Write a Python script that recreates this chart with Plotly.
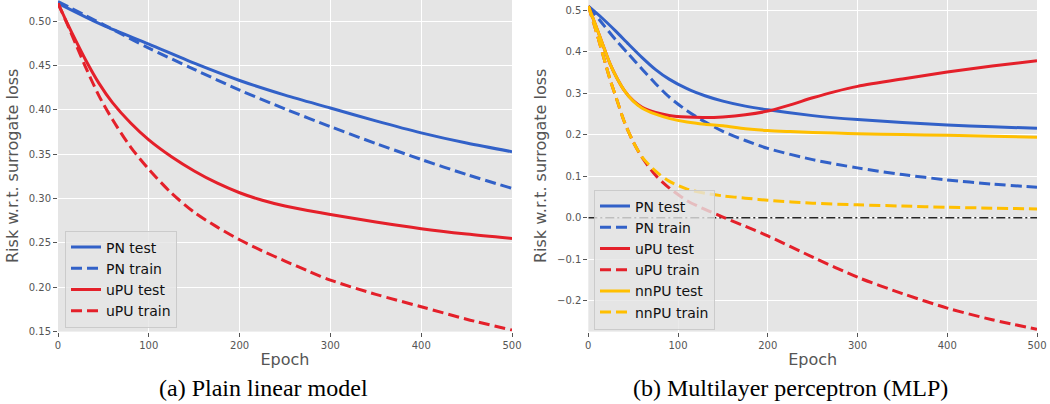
import plotly.graph_objects as go

# ---------------- data: (a) plain linear model ----------------
lin_pn_epochs = [0, 50, 100, 150, 200, 250, 300, 350, 400, 450, 500]
lin_pn_test = [0.520, 0.495, 0.474, 0.4525, 0.433, 0.4165, 0.402, 0.3875, 0.374, 0.3625, 0.3527]
lin_pn_train = [0.522, 0.496, 0.4695, 0.4455, 0.4222, 0.401, 0.381, 0.362, 0.344, 0.327, 0.3114]

lin_upu_epochs = [0, 10, 20, 30, 45, 60, 80, 100, 125, 150, 175, 200, 225, 250, 275, 300, 350, 400, 450, 500]
lin_upu_test = [0.520, 0.498, 0.477, 0.457, 0.430, 0.408, 0.385, 0.366, 0.347, 0.331, 0.3175, 0.3065,
                0.298, 0.2915, 0.2865, 0.282, 0.2735, 0.266, 0.260, 0.255]
lin_upu_train = [0.520, 0.497, 0.473, 0.449, 0.416, 0.389, 0.358, 0.333, 0.306, 0.2845, 0.268, 0.2535,
                 0.241, 0.2295, 0.2185, 0.208, 0.192, 0.178, 0.164, 0.1517]

# ---------------- data: (b) multilayer perceptron ----------------
mlp_pn_epochs = [0, 15, 30, 45, 60, 75, 90, 110, 130, 150, 175, 200, 250, 300, 350, 400, 450, 500]
mlp_pn_test = [0.510, 0.482, 0.451, 0.418, 0.386, 0.357, 0.334, 0.311, 0.294, 0.281, 0.269, 0.260,
               0.246, 0.2365, 0.2295, 0.2235, 0.219, 0.2156]
mlp_pn_train = [0.510, 0.470, 0.430, 0.394, 0.358, 0.323, 0.291, 0.258, 0.231, 0.208, 0.186, 0.167,
                0.140, 0.120, 0.104, 0.091, 0.081, 0.0734]

mlp_test_epochs = [0, 8, 16, 24, 32, 40, 50, 60, 75, 90, 110, 130, 150, 175, 200, 225, 250, 275,
                   300, 350, 400, 450, 500]
mlp_upu_test = [0.510, 0.465, 0.418, 0.372, 0.336, 0.307, 0.282, 0.266, 0.2535, 0.2465, 0.2425,
                0.2415, 0.243, 0.248, 0.257, 0.272, 0.289, 0.304, 0.3165, 0.3345, 0.351, 0.3655, 0.3785]
mlp_nnpu_test = [0.510, 0.465, 0.418, 0.372, 0.336, 0.307, 0.281, 0.264, 0.2495, 0.2395, 0.2305,
                 0.2250, 0.2215, 0.2145, 0.210, 0.2075, 0.2055, 0.204, 0.2025, 0.2005, 0.1985, 0.196, 0.194]

mlp_train_epochs = [0, 8, 16, 24, 32, 40, 50, 60, 75, 90, 110, 130, 150, 175, 200, 250, 300, 350,
                    400, 450, 500]
mlp_upu_train = [0.510, 0.455, 0.395, 0.335, 0.283, 0.232, 0.183, 0.145, 0.102, 0.072, 0.041, 0.020,
                 0.0015, -0.021, -0.044, -0.095, -0.1436, -0.183, -0.218, -0.246, -0.269]
mlp_nnpu_train = [0.510, 0.455, 0.395, 0.335, 0.283, 0.232, 0.183, 0.146, 0.112, 0.088, 0.069, 0.059,
                  0.0525, 0.047, 0.042, 0.035, 0.031, 0.028, 0.025, 0.023, 0.021]

zero_x = [0, 500]
zero_y = [0, 0]

left_yticks = [0.15, 0.20, 0.25, 0.30, 0.35, 0.40, 0.45, 0.50]
right_yticks = [-0.2, -0.1, 0.0, 0.1, 0.2, 0.3, 0.4, 0.5]
xticks = [0, 100, 200, 300, 400, 500]

BLUE = "#3261C8"
RED = "#E4202A"
YELLOW = "#FFBF00"
DASH = "11px,5px"
LW = 3

fig = go.Figure()


def add(x, y, name, color, dashed, xa, ya, legend):
    fig.add_trace(go.Scatter(
        x=x, y=y, name=name, mode="lines",
        line=dict(color=color, width=LW, dash=DASH if dashed else "solid",
                  shape="spline", smoothing=0.8),
        xaxis=xa, yaxis=ya, legend=legend,
    ))


# zero reference line (b)
fig.add_trace(go.Scatter(x=zero_x, y=zero_y, mode="lines", showlegend=False,
                         line=dict(color="#262626", width=1.5, dash="9px,3px,2px,3px"),
                         xaxis="x2", yaxis="y2"))

add(lin_pn_epochs, lin_pn_test, "PN test", BLUE, False, "x", "y", "legend")
add(lin_pn_epochs, lin_pn_train, "PN train", BLUE, True, "x", "y", "legend")
add(lin_upu_epochs, lin_upu_test, "uPU test", RED, False, "x", "y", "legend")
add(lin_upu_epochs, lin_upu_train, "uPU train", RED, True, "x", "y", "legend")

add(mlp_pn_epochs, mlp_pn_test, "PN test", BLUE, False, "x2", "y2", "legend2")
add(mlp_pn_epochs, mlp_pn_train, "PN train", BLUE, True, "x2", "y2", "legend2")
add(mlp_test_epochs, mlp_upu_test, "uPU test", RED, False, "x2", "y2", "legend2")
add(mlp_train_epochs, mlp_upu_train, "uPU train", RED, True, "x2", "y2", "legend2")
add(mlp_test_epochs, mlp_nnpu_test, "nnPU test", YELLOW, False, "x2", "y2", "legend2")
add(mlp_train_epochs, mlp_nnpu_train, "nnPU train", YELLOW, True, "x2", "y2", "legend2")

W, H = 1050, 404
tickfont = dict(family="DejaVu Sans", size=10, color="#555555")
titlefont = dict(family="DejaVu Sans", size=16, color="#555555")

common_x = dict(range=[0, 500], tickvals=xticks, showgrid=True, gridcolor="white", gridwidth=1,
                zeroline=False, ticks="outside", ticklen=4, tickcolor="#555555",
                tickfont=tickfont, showline=False, automargin=False,
                title=dict(text="Epoch", font=titlefont, standoff=4))
common_y = dict(showgrid=True, gridcolor="white", gridwidth=1, zeroline=False,
                ticks="outside", ticklen=4, tickcolor="#555555", tickfont=tickfont,
                showline=False, automargin=False,
                title=dict(text="Risk w.r.t. surrogate loss", font=titlefont, standoff=6))

ydom = [1 - 331.6 / H, 1.0]

legend_common = dict(bgcolor="rgba(229,229,229,0.8)", bordercolor="rgba(200,200,200,0.9)",
                     borderwidth=1, font=dict(family="DejaVu Sans", size=14, color="#111111"),
                     xanchor="left", yanchor="top", tracegroupgap=0)

fig.update_layout(
    width=W, height=H,
    margin=dict(l=0, r=0, t=0, b=0),
    paper_bgcolor="white", plot_bgcolor="#E5E5E5",
    xaxis=dict(common_x, domain=[58 / W, 512 / W], anchor="y"),
    yaxis=dict(common_y, domain=ydom, range=[0.15, 0.5237], tickvals=left_yticks,
               tickformat=".2f", anchor="x"),
    xaxis2=dict(common_x, domain=[588.3 / W, 1037 / W], anchor="y2"),
    yaxis2=dict(common_y, domain=ydom, range=[-0.2747, 0.5248], tickvals=right_yticks,
                tickformat=".1f", anchor="x2"),
    legend=dict(legend_common, x=65 / W, y=1 - 230.5 / H),
    legend2=dict(legend_common, x=594 / W, y=1 - 189.5 / H),
    showlegend=True,
    annotations=[
        dict(text="(a) Plain linear model", x=263.5 / W, y=1 - 388 / H,
             xref="paper", yref="paper", showarrow=False, xanchor="center", yanchor="middle",
             font=dict(family="Liberation Serif", size=24, color="black")),
        dict(text="(b) Multilayer perceptron (MLP)", x=790.5 / W, y=1 - 388 / H,
             xref="paper", yref="paper", showarrow=False, xanchor="center", yanchor="middle",
             font=dict(family="Liberation Serif", size=24, color="black")),
    ],
)

fig.write_html("out.html", config={"displayModeBar": False},
               post_script="document.body.style.margin='0';document.body.style.overflow='hidden';")
